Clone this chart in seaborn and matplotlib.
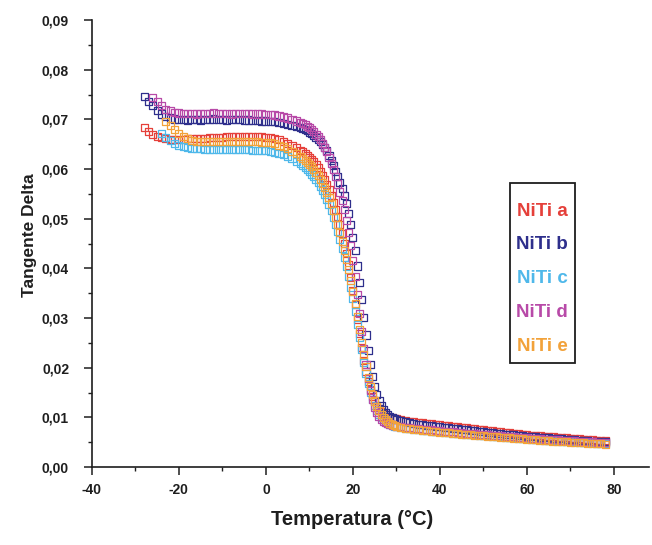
import numpy as np
import pandas as pd
import matplotlib
matplotlib.use("Agg")
import matplotlib.pyplot as plt
from matplotlib.ticker import FuncFormatter, AutoMinorLocator
from matplotlib.patches import Rectangle
import seaborn as sns

nan = np.nan

# Measurement temperatures (°C): 1 °C steps, 0.5 °C steps through the transition
TEMP = [-28, -27, -26, -25, -24, -23, -22, -21, -20, -19, -18, -17, -16, -15,
        -14, -13, -12, -11, -10, -9, -8, -7, -6, -5, -4, -3, -2, -1, 0, 1, 2,
        3, 4, 5, 6, 7, 8,
        8.5, 9, 9.5, 10, 10.5, 11, 11.5, 12, 12.5, 13, 13.5, 14, 14.5, 15,
        15.5, 16, 16.5, 17, 17.5, 18, 18.5, 19, 19.5, 20, 20.5, 21, 21.5, 22,
        22.5, 23, 23.5, 24, 24.5, 25, 25.5, 26, 26.5, 27, 27.5, 28, 28.5, 29,
        29.5, 30,
        31, 32, 33, 34, 35, 36, 37, 38, 39, 40, 41, 42, 43, 44, 45, 46, 47, 48,
        49, 50, 51, 52, 53, 54, 55, 56, 57, 58, 59, 60, 61, 62, 63, 64, 65, 66,
        67, 68, 69, 70, 71, 72, 73, 74, 75, 76, 77, 78]

NITI_A = [.0683, .0676, .0670, .0666, .0663, .0661, .0660, .0660, .0660, .0660,
          .0661, .0661, .0661, .0662, .0662, .0663, .0663, .0664, .0664, .0665,
          .0665, .0665, .0666, .0666, .0666, .0666, .0665, .0665, .0664, .0663,
          .0661, .0659, .0656, .0652, .0648, .0643, .0638,
          .0635, .0632, .0628, .0624, .0620, .0615, .0609, .0603, .0596, .0588,
          .0579, .0569, .0558, .0546, .0533, .0519, .0504, .0488, .0470, .0451,
          .0430, .0407, .0382, .0355, .0327, .0298, .0269, .0241, .0215, .0192,
          .0172, .0156, .0143, .0132, .0124, .0117, .0112, .0108, .0105, .0102,
          .0100, .0099, .0098, .0097,
          .0095, .0094, .0092, .0091, .0090, .0089, .0088, .0087, .0086, .0085,
          .0084, .0083, .0082, .0081, .0080, .0079, .0078, .0077, .0076, .0075,
          .0074, .0073, .0072, .0071, .0070, .0069, .0068, .0067, .0066, .0065,
          .0064, .0064, .0063, .0062, .0061, .0061, .0060, .0059, .0059, .0058,
          .0057, .0057, .0056, .0055, .0055, .0054, .0054, .0053]

NITI_B = [.0746, .0737, .0728, .0719, .0711, .0706, .0703, .0701, .0700, .0700,
          .0699, .0700, .0700, .0699, .0700, .0700, .0701, .0700, .0700, .0699,
          .0700, .0700, .0700, .0699, .0699, .0698, .0698, .0697, .0697, .0696,
          .0695, .0693, .0691, .0689, .0687, .0685, .0683,
          .0681, .0679, .0677, .0674, .0671, .0668, .0664, .0660, .0655, .0650,
          .0644, .0637, .0628, .0618, .0607, .0596, .0585, .0574, .0561, .0547,
          .0530, .0510, .0488, .0463, .0436, .0405, .0372, .0337, .0301, .0266,
          .0234, .0206, .0182, .0162, .0146, .0133, .0123, .0116, .0110, .0106,
          .0102, .0099, .0097, .0095,
          .0093, .0091, .0089, .0088, .0086, .0085, .0084, .0083, .0082, .0081,
          .0080, .0079, .0078, .0077, .0076, .0075, .0074, .0073, .0072, .0071,
          .0070, .0069, .0068, .0067, .0066, .0065, .0065, .0064, .0063, .0062,
          .0061, .0061, .0060, .0059, .0059, .0058, .0057, .0057, .0056, .0055,
          .0055, .0054, .0053, .0053, .0052, .0052, .0051, .0051]

NITI_C = [nan, nan, nan, nan, .0672, .0664, .0657, .0652, .0648, .0645, .0643,
          .0642, .0641, .0641, .0640, .0640, .0640, .0640, .0639, .0639, .0639,
          .0639, .0639, .0639, .0639, .0638, .0638, .0638, .0637, .0636, .0634,
          .0632, .0629, .0625, .0621, .0616, .0611,
          .0607, .0603, .0599, .0595, .0590, .0585, .0579, .0573, .0566, .0558,
          .0549, .0539, .0528, .0516, .0503, .0489, .0474, .0458, .0441, .0423,
          .0404, .0384, .0362, .0339, .0314, .0288, .0262, .0236, .0211, .0188,
          .0168, .0151, .0136, .0124, .0114, .0106, .0100, .0095, .0091, .0088,
          .0086, .0084, .0082, .0081,
          .0079, .0078, .0077, .0076, .0075, .0074, .0073, .0072, .0071, .0071,
          .0070, .0069, .0068, .0068, .0067, .0066, .0065, .0065, .0064, .0063,
          .0063, .0062, .0061, .0061, .0060, .0059, .0059, .0058, .0057, .0057,
          .0056, .0056, .0055, .0054, .0054, .0053, .0053, .0052, .0052, .0051,
          .0051, .0050, .0050, .0049, .0049, .0048, .0048, .0047]

NITI_D = [nan, nan, .0744, .0736, .0728, .0721, .0717, .0714, .0713, .0712,
          .0712, .0712, .0711, .0712, .0712, .0712, .0713, .0712, .0712, .0712,
          .0711, .0712, .0712, .0712, .0712, .0711, .0711, .0711, .0710, .0710,
          .0709, .0707, .0705, .0703, .0700, .0697, .0694,
          .0692, .0689, .0686, .0683, .0679, .0675, .0670, .0665, .0659, .0652,
          .0644, .0635, .0624, .0612, .0599, .0585, .0570, .0554, .0537, .0518,
          .0497, .0473, .0446, .0416, .0383, .0347, .0310, .0273, .0238, .0206,
          .0178, .0155, .0136, .0121, .0110, .0102, .0096, .0092, .0089, .0087,
          .0085, .0084, .0083, .0082,
          .0081, .0080, .0079, .0078, .0077, .0076, .0075, .0075, .0074, .0073,
          .0072, .0071, .0071, .0070, .0069, .0068, .0068, .0067, .0066, .0065,
          .0065, .0064, .0063, .0063, .0062, .0061, .0061, .0060, .0059, .0059,
          .0058, .0058, .0057, .0056, .0056, .0055, .0055, .0054, .0054, .0053,
          .0053, .0052, .0052, .0051, .0051, .0050, .0050, .0049]

NITI_E = [nan, nan, nan, nan, nan, .0695, .0687, .0679, .0672, .0666, .0661,
          .0658, .0656, .0655, .0655, .0655, .0655, .0656, .0656, .0656, .0656,
          .0656, .0656, .0656, .0656, .0655, .0655, .0654, .0654, .0653, .0651,
          .0648, .0645, .0641, .0636, .0631, .0626,
          .0622, .0618, .0614, .0610, .0605, .0600, .0594, .0587, .0580, .0572,
          .0563, .0553, .0542, .0530, .0517, .0503, .0488, .0472, .0455, .0437,
          .0418, .0398, .0376, .0353, .0329, .0303, .0277, .0251, .0226, .0202,
          .0181, .0162, .0146, .0133, .0122, .0113, .0106, .0100, .0095, .0091,
          .0088, .0086, .0084, .0082,
          .0080, .0078, .0077, .0076, .0075, .0074, .0073, .0072, .0071, .0070,
          .0069, .0069, .0068, .0067, .0066, .0066, .0065, .0064, .0063, .0063,
          .0062, .0061, .0061, .0060, .0059, .0059, .0058, .0057, .0057, .0056,
          .0055, .0055, .0054, .0054, .0053, .0052, .0052, .0051, .0051, .0050,
          .0050, .0049, .0049, .0048, .0048, .0047, .0047, .0046]

SERIES = ["NiTi a", "NiTi b", "NiTi c", "NiTi d", "NiTi e"]
VALUES = [NITI_A, NITI_B, NITI_C, NITI_D, NITI_E]
COLORS = ["#e5403a", "#2e2f8c", "#4fb8ea", "#b84aa8", "#f2a23a"]

X_TICKS = [-40, -20, 0, 20, 40, 60, 80]
Y_TICKS = [0.00, 0.01, 0.02, 0.03, 0.04, 0.05, 0.06, 0.07, 0.08, 0.09]

frames = []
for name, vals in zip(SERIES, VALUES):
    assert len(vals) == len(TEMP), (name, len(vals), len(TEMP))
    frames.append(pd.DataFrame({"temp": TEMP, "tan_delta": vals, "sample": name}))
df = pd.concat(frames, ignore_index=True).dropna()

sns.set_theme(style="ticks")
plt.rcParams["font.family"] = ["Liberation Sans", "DejaVu Sans"]
plt.rcParams["font.weight"] = "bold"

INK = "#1e1e1e"

fig = plt.figure(figsize=(6.52, 5.45), dpi=100)
ax = fig.add_axes([0.141, 0.143, 0.854, 0.820])

# Hollow square markers, one pass per sample
for name, color in zip(SERIES, COLORS):
    sub = df[df["sample"] == name]
    sns.scatterplot(data=sub, x="temp", y="tan_delta", ax=ax, marker="s",
                    s=26, facecolor="none", edgecolor=color, color=color,
                    linewidth=0.9, legend=False)

ax.set_xlim(-40, 88)
ax.set_ylim(0, 0.09)
ax.set_xticks(X_TICKS)
ax.set_yticks(Y_TICKS)
ax.xaxis.set_minor_locator(AutoMinorLocator(2))
ax.yaxis.set_minor_locator(AutoMinorLocator(2))
ax.yaxis.set_major_formatter(FuncFormatter(lambda v, _: f"{v:.2f}".replace(".", ",")))
ax.xaxis.set_major_formatter(FuncFormatter(lambda v, _: f"{v:.0f}"))
ax.tick_params(axis="y", which="major", length=5.5, width=1.1, direction="out",
               labelsize=10, color=INK, labelcolor=INK, pad=11)
ax.tick_params(axis="x", which="major", length=5.5, width=1.1, direction="out",
               labelsize=10, color=INK, labelcolor=INK, pad=6)
ax.tick_params(axis="both", which="minor", length=3, width=1.0, direction="out",
               color=INK)
for lbl in ax.get_xticklabels() + ax.get_yticklabels():
    lbl.set_fontweight("bold")

sns.despine(ax=ax)
for side in ("left", "bottom"):
    ax.spines[side].set_linewidth(1.2)
    ax.spines[side].set_color(INK)

ax.set_xlabel("Temperatura (°C)", fontsize=14.5, fontweight="bold", color=INK)
ax.xaxis.set_label_coords(0.467, -0.096)
ax.set_ylabel("Tangente Delta", fontsize=12.5, fontweight="bold", color=INK)
ax.yaxis.set_label_coords(-0.099, 0.519)

# Key: framed box with sample names in their series colours
box_x0, box_x1 = 0.7505, 0.867
box_y0, box_y1 = 0.2327, 0.635
ax.add_patch(Rectangle((box_x0, box_y0), box_x1 - box_x0, box_y1 - box_y0,
                       transform=ax.transAxes, fill=False, edgecolor=INK,
                       linewidth=1.3, zorder=5))
key_rows = [0.572, 0.497, 0.422, 0.346, 0.270]
for name, color, yk in zip(SERIES, COLORS, key_rows):
    ax.text((box_x0 + box_x1) / 2, yk, name, transform=ax.transAxes,
            ha="center", va="center", fontsize=13.5, fontweight="bold",
            color=color, zorder=6)

fig.savefig("out.png", dpi=100)
